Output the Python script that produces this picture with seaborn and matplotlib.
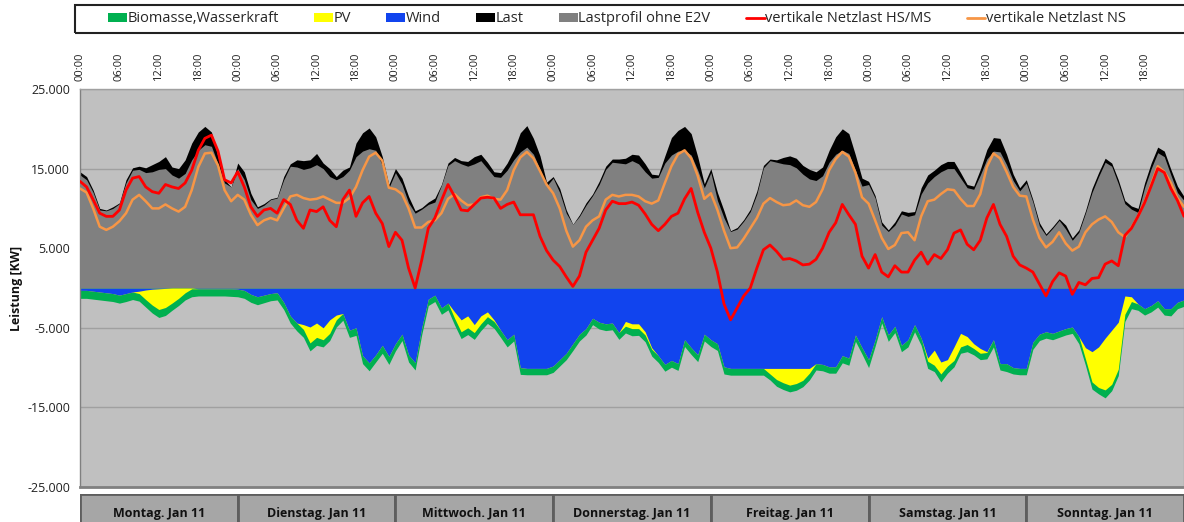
import numpy as np
import pandas as pd
import matplotlib
matplotlib.use("Agg")
import matplotlib.pyplot as plt
import seaborn as sns
from matplotlib.patches import Patch, Rectangle
from matplotlib.lines import Line2D

# ---- data: hourly values in thousand kW, Monday 00:00 .. Sunday 24:00 ----
last = [14.6, 14.0, 12.3, 10.0, 9.8, 10.2, 10.7, 13.6, 15.1, 15.3, 15.1, 15.5, 15.9, 16.5, 15.2, 15.0, 16.1, 18.2, 19.6, 20.3, 19.6, 16.5, 13.6, 12.7,
        15.7, 14.6, 11.9, 10.2, 10.6, 11.2, 11.4, 14.0, 15.6, 16.1, 16.0, 16.1, 16.9, 15.7, 15.0, 14.0, 14.8, 15.2, 18.2, 19.5, 20.1, 19.0, 16.5, 13.0,
        15.0, 13.8, 11.5, 9.7, 10.1, 10.8, 11.3, 13.0, 15.7, 16.4, 16.0, 15.9, 16.5, 16.8, 15.8, 14.6, 14.5, 15.7, 17.3, 19.5, 20.4, 18.8, 16.6, 13.3,
        14.0, 12.5, 9.8, 8.0, 9.2, 10.7, 11.8, 13.4, 15.3, 16.2, 16.2, 16.3, 16.8, 16.7, 15.6, 14.3, 14.2, 16.6, 18.9, 19.8, 20.3, 19.4, 16.5, 13.1,
        15.0, 12.0, 9.7, 7.2, 7.6, 8.6, 9.9, 12.2, 15.4, 16.2, 16.1, 16.4, 16.6, 16.3, 15.4, 14.9, 14.6, 15.2, 17.3, 19.0, 20.0, 19.4, 16.7, 13.8,
        13.4, 11.6, 8.3, 7.3, 8.3, 9.7, 9.5, 9.6, 12.6, 14.2, 14.8, 15.5, 15.9, 15.9, 14.5, 13.0, 12.8, 14.9, 17.4, 18.9, 18.8, 16.8, 14.3, 12.6,
        13.6, 11.1, 8.2, 6.8, 7.7, 8.7, 7.9, 6.3, 7.3, 9.7, 12.5, 14.5, 16.3, 15.7, 13.6, 11.0, 10.3, 10.0, 13.2, 15.7, 17.7, 17.2, 14.9, 12.8, 11.5]

lastprofil = [14.2, 13.6, 12.0, 9.8, 9.7, 10.0, 10.6, 13.2, 14.8, 14.9, 14.5, 14.6, 14.9, 15.0, 14.2, 13.8, 14.4, 16.1, 17.3, 18.0, 17.8, 15.6, 13.2, 12.7,
              15.0, 13.6, 11.1, 10.0, 10.4, 11.1, 11.3, 13.6, 15.3, 15.2, 14.9, 15.1, 15.5, 15.0, 14.0, 13.6, 14.0, 14.8, 16.5, 17.2, 17.5, 17.3, 15.4, 12.6,
              14.5, 13.0, 10.7, 9.4, 9.9, 10.5, 10.8, 12.9, 15.4, 16.0, 15.6, 15.3, 15.6, 16.0, 15.0, 14.0, 13.9, 14.8, 16.1, 17.1, 17.7, 16.8, 14.9, 12.8,
              13.8, 12.0, 9.4, 8.0, 9.0, 10.4, 11.6, 13.0, 14.9, 15.8, 15.7, 15.6, 16.0, 15.6, 14.6, 13.8, 13.9, 15.7, 16.7, 17.2, 17.3, 16.7, 14.8, 12.6,
              14.5, 11.0, 8.8, 7.1, 7.4, 8.4, 9.6, 11.8, 15.1, 16.0, 15.8, 15.6, 15.5, 15.1, 14.3, 13.7, 13.5, 14.1, 15.8, 16.8, 17.3, 16.9, 14.8, 12.8,
              13.0, 11.3, 7.9, 7.1, 7.9, 9.3, 9.0, 9.2, 11.8, 13.2, 14.0, 14.6, 15.0, 15.0, 13.8, 12.6, 12.4, 14.2, 16.2, 17.2, 17.1, 15.5, 13.5, 12.2,
              13.2, 10.8, 7.8, 6.6, 7.5, 8.5, 7.4, 6.0, 7.0, 9.4, 12.0, 14.0, 15.8, 15.3, 13.1, 10.6, 9.9, 9.5, 12.6, 15.0, 17.0, 16.5, 14.2, 12.0, 11.0]

netzlast_hsms = [13.4, 12.7, 11.1, 9.4, 9.0, 9.0, 9.8, 12.3, 13.8, 14.0, 12.7, 12.1, 11.9, 13.0, 12.7, 12.5, 13.2, 14.8, 17.3, 18.8, 19.2, 17.2, 13.6, 13.2,
                 14.6, 12.7, 10.2, 9.0, 9.8, 10.0, 9.4, 11.1, 10.5, 8.5, 7.5, 9.8, 9.6, 10.2, 8.5, 7.7, 11.1, 12.3, 9.0, 10.7, 11.5, 9.4, 8.1, 5.2,
                 7.0, 6.0, 2.5, 0.0, 3.5, 7.5, 8.8, 11.0, 13.0, 11.5, 9.8, 9.7, 10.5, 11.3, 11.4, 11.3, 10.0, 10.5, 10.8, 9.2, 9.2, 9.2, 6.5, 4.7,
                 3.5, 2.7, 1.4, 0.2, 1.5, 4.5, 6.0, 7.5, 9.8, 10.9, 10.6, 10.6, 10.8, 10.4, 9.3, 8.0, 7.2, 8.0, 9.0, 9.4, 11.2, 12.5, 9.5, 7.0,
                 5.0, 2.0, -2.0, -4.0, -2.5, -1.0, 0.0, 2.5, 4.8, 5.4, 4.6, 3.6, 3.7, 3.4, 2.9, 3.0, 3.6, 5.0, 7.0, 8.2, 10.5, 9.2, 8.0, 4.0,
                 2.5, 4.2, 2.0, 1.4, 2.8, 2.0, 2.0, 3.5, 4.5, 3.0, 4.2, 3.7, 4.8, 6.9, 7.3, 5.5, 4.8, 6.0, 8.8, 10.5, 8.0, 6.5, 4.0, 2.9,
                 2.5, 2.0, 0.5, -1.0, 0.8, 1.9, 1.5, -0.8, 0.7, 0.4, 1.2, 1.3, 3.0, 3.4, 2.8, 6.6, 7.5, 9.0, 10.7, 12.8, 15.0, 14.5, 12.5, 11.0, 9.0]

netzlast_ns = [12.5, 12.0, 10.0, 7.7, 7.3, 7.7, 8.4, 9.4, 11.1, 11.7, 10.9, 10.0, 10.0, 10.5, 10.0, 9.6, 10.2, 12.3, 15.2, 16.9, 17.0, 15.4, 12.3, 10.9,
               11.7, 11.1, 9.2, 7.9, 8.5, 8.8, 8.5, 10.0, 11.5, 11.7, 11.3, 11.1, 11.2, 11.5, 11.1, 10.7, 10.7, 11.3, 12.7, 14.8, 16.5, 17.0, 16.0, 12.6,
               12.4, 11.8, 10.0, 7.6, 7.6, 8.3, 8.5, 9.4, 11.2, 11.8, 11.0, 10.4, 10.5, 11.4, 11.6, 11.2, 11.1, 12.3, 14.8, 16.4, 17.1, 16.3, 14.7, 13.0,
               11.9, 10.0, 7.2, 5.2, 6.0, 7.7, 8.5, 9.0, 11.1, 11.7, 11.5, 11.7, 11.7, 11.5, 10.9, 10.6, 11.0, 13.2, 15.3, 16.8, 17.3, 16.3, 14.1, 11.2,
               11.9, 9.8, 7.2, 5.0, 5.1, 6.2, 7.5, 8.8, 10.6, 11.3, 10.8, 10.4, 10.5, 11.0, 10.4, 10.2, 10.8, 12.4, 14.8, 16.2, 17.1, 16.5, 14.5, 11.4,
               10.6, 8.5, 6.3, 4.9, 5.4, 6.9, 7.0, 6.0, 9.0, 10.9, 11.1, 11.8, 12.4, 12.3, 11.2, 10.3, 10.3, 11.8, 15.2, 16.9, 16.3, 14.6, 12.7, 11.6,
               11.5, 8.6, 6.3, 5.1, 5.8, 7.0, 5.6, 4.7, 5.2, 7.0, 8.0, 8.6, 9.0, 8.3, 7.0, 6.4, 7.6, 9.0, 10.8, 13.0, 15.3, 14.6, 13.2, 11.3, 10.2]

wind = [0.3, 0.3, 0.4, 0.5, 0.6, 0.7, 0.9, 0.7, 0.5, 0.4, 0.25, 0.15, 0.1, 0.05, 0.0, 0.0, 0.0, 0.0, 0.1, 0.1, 0.1, 0.1, 0.1, 0.1,
        0.15, 0.3, 0.8, 1.1, 0.9, 0.7, 0.6, 1.8, 3.5, 4.4, 4.6, 4.9, 4.4, 5.0, 4.0, 3.4, 3.2, 5.3, 5.0, 8.5, 9.4, 8.4, 7.2, 8.6,
        7.0, 5.8, 8.4, 9.4, 5.0, 1.4, 0.9, 2.5, 1.9, 3.0, 4.0, 3.5, 4.6, 3.5, 3.0, 4.0, 5.3, 6.5, 5.8, 10.0, 10.1, 10.1, 10.1, 10.1,
        9.8, 9.0, 8.2, 7.0, 5.8, 5.1, 3.8, 4.3, 4.5, 4.4, 5.6, 4.2, 4.5, 4.5, 5.5, 7.5, 8.5, 9.6, 9.1, 9.5, 6.5, 7.5, 8.4, 5.8,
        6.5, 7.0, 9.9, 10.1, 10.1, 10.1, 10.1, 10.1, 10.1, 10.1, 10.1, 10.1, 10.1, 10.1, 10.1, 10.1, 9.5, 9.6, 9.9, 9.9, 8.5, 8.8, 5.9, 7.5,
        9.0, 6.5, 3.6, 5.9, 4.8, 7.2, 6.5, 4.6, 6.3, 8.8, 7.8, 9.3, 9.0, 7.4, 5.7, 6.1, 7.0, 7.6, 8.0, 6.5, 9.5, 9.5, 10.0, 10.1,
        10.1, 6.8, 5.8, 5.5, 5.7, 5.4, 5.1, 4.9, 6.1, 7.5, 8.0, 7.4, 6.3, 5.3, 4.3, 1.0, 1.1, 2.0, 2.6, 2.2, 1.6, 2.6, 2.6, 1.8, 1.5]

pv = [0, 0, 0, 0, 0, 0, 0, 0, 0, 0.3, 1.2, 2.0, 2.6, 2.4, 1.9, 1.3, 0.6, 0.1, 0, 0, 0, 0, 0, 0,
      0, 0, 0, 0, 0, 0, 0, 0, 0, 0, 0.6, 2.0, 1.8, 1.5, 1.7, 0.6, 0, 0, 0, 0, 0, 0, 0, 0,
      0, 0, 0, 0, 0, 0, 0, 0, 0, 0.8, 1.5, 1.5, 1.0, 1.0, 0.6, 0.2, 0, 0, 0, 0, 0, 0, 0, 0,
      0, 0, 0, 0, 0, 0, 0, 0, 0, 0, 0, 0.6, 0.6, 0.6, 0.4, 0.2, 0, 0, 0, 0, 0, 0, 0, 0,
      0, 0, 0, 0, 0, 0, 0, 0, 0, 0.7, 1.4, 1.8, 2.1, 1.9, 1.5, 0.6, 0, 0, 0, 0, 0, 0, 0, 0,
      0, 0, 0, 0, 0, 0, 0, 0, 0, 0.4, 1.9, 1.5, 0.8, 1.7, 1.7, 1.0, 0.6, 0.6, 0.1, 0, 0, 0, 0, 0,
      0, 0, 0, 0, 0, 0, 0, 0, 0, 1.4, 3.8, 5.1, 6.5, 6.8, 5.9, 2.3, 0.6, 0, 0, 0, 0, 0, 0, 0, 0]

biomasse = [1.0, 1.0, 1.0, 1.0, 1.0, 1.0, 1.0, 1.0, 0.95, 0.95, 0.95, 1.0, 1.0, 1.0, 0.9, 0.9, 0.9, 1.0, 0.9, 0.9, 0.9, 0.9, 0.9, 0.95,
            0.95, 1.0, 1.0, 1.0, 0.95, 0.9, 0.9, 0.9, 0.9, 1.0, 1.0, 1.0, 1.0, 0.9, 0.9, 0.9, 0.85, 0.9, 0.95, 1.0, 1.0, 0.9, 1.0, 1.0,
            0.9, 0.8, 0.9, 0.9, 0.85, 0.8, 0.8, 0.8, 0.85, 0.85, 0.85, 0.85, 0.85, 0.85, 0.85, 0.85, 0.9, 0.9, 0.85, 0.85, 0.8, 0.8, 0.8, 0.8,
            0.8, 0.8, 0.8, 0.85, 0.85, 0.8, 0.8, 0.85, 0.85, 0.85, 0.85, 0.85, 0.9, 0.85, 0.85, 0.85, 0.85, 0.85, 0.85, 0.85, 0.85, 0.85, 0.85, 0.85,
            0.85, 0.85, 0.9, 0.85, 0.85, 0.85, 0.85, 0.85, 0.85, 0.75, 0.85, 0.85, 0.85, 0.85, 0.8, 0.85, 0.8, 0.8, 0.8, 0.8, 0.9, 0.9, 0.8, 0.8,
            1.0, 0.8, 0.8, 0.8, 0.8, 0.8, 0.9, 0.9, 0.9, 0.9, 0.8, 1.0, 0.9, 0.8, 0.8, 0.9, 0.8, 0.8, 0.8, 0.9, 0.8, 1.0, 0.8, 0.8,
            0.8, 0.9, 0.8, 0.8, 0.8, 0.8, 0.8, 0.8, 0.9, 0.8, 0.9, 0.8, 1.0, 0.8, 0.8, 0.9, 0.9, 0.8, 0.8, 0.8, 0.8, 0.8, 0.9, 0.8, 0.8]

days = ["Montag. Jan 11", "Dienstag. Jan 11", "Mittwoch. Jan 11", "Donnerstag. Jan 11",
        "Freitag. Jan 11", "Samstag. Jan 11", "Sonntag. Jan 11"]
time_labels = ["00:00", "06:00", "12:00", "18:00"]
y_ticks = [-25000, -15000, -5000, 5000, 15000, 25000]
legend_labels = ["Biomasse,Wasserkraft", "PV", "Wind", "Last", "Lastprofil ohne E2V",
                 "vertikale Netzlast HS/MS", "vertikale Netzlast NS"]

# ---- build table (kW) ----
KW = 1000
df = pd.DataFrame({
    "h": np.arange(len(last)),
    "last": np.array(last) * KW,
    "profil": np.array(lastprofil) * KW,
    "hsms": np.array(netzlast_hsms) * KW,
    "ns": np.array(netzlast_ns) * KW,
    "wind": np.array(wind) * KW,
    "pv": np.array(pv) * KW,
    "bio": np.array(biomasse) * KW,
})
df["neg_wind"] = -df["wind"]
df["neg_wind_pv"] = df["neg_wind"] - df["pv"]
df["neg_total"] = df["neg_wind_pv"] - df["bio"]

C_GREEN, C_YELLOW, C_BLUE = "#00B050", "#FFFF00", "#1144EE"
C_BLACK, C_GRAY, C_BG = "#000000", "#808080", "#C0C0C0"
C_RED, C_ORANGE = "#FF0000", "#F79646"

sns.set_style("white")
plt.rcParams["font.family"] = ["Open Sans", "DejaVu Sans"]

W, H = 1184, 522
fig = plt.figure(figsize=(W / 100, H / 100), dpi=100)
ax = fig.add_axes([80 / W, 35 / H, 1104 / W, 398 / H])
ax.set_facecolor(C_BG)

n_hours = 24 * len(days)
ax.set_xlim(0, n_hours)
ax.set_ylim(-25000, 25000)

# grid (under the areas)
ax.set_axisbelow(True)
ax.set_yticks(y_ticks)
ax.yaxis.grid(True, color="#A0A0A0", lw=1)
ax.set_xticks(np.arange(0, n_hours + 1, 12), minor=True)
ax.xaxis.grid(True, which="minor", color="#A0A0A0", lw=1)

# positive areas
ax.fill_between(df["h"], 0, df["last"], color=C_BLACK, lw=0, zorder=2)
ax.fill_between(df["h"], 0, df["profil"], color=C_GRAY, lw=0, zorder=2)
# negative stacked areas (wind at top, PV, biomass at bottom)
ax.fill_between(df["h"], 0, df["neg_total"], color=C_GREEN, lw=0, zorder=2)
ax.fill_between(df["h"], 0, df["neg_wind_pv"], color=C_YELLOW, lw=0, zorder=2)
ax.fill_between(df["h"], 0, df["neg_wind"], color=C_BLUE, lw=0, zorder=2)

# lines
sns.lineplot(data=df, x="h", y="ns", color=C_ORANGE, lw=1.8, ax=ax, zorder=3)
sns.lineplot(data=df, x="h", y="hsms", color=C_RED, lw=2.0, ax=ax, zorder=4)
ax.set_xlabel("")
ax.set_ylabel("")

# top time tick labels
ax.xaxis.tick_top()
ax.set_xticks(np.arange(0, n_hours, 6))
ax.set_xticklabels(time_labels * len(days), rotation=90, fontsize=8, color="#222222")
ax.tick_params(axis="x", which="both", length=0, pad=6)

ax.set_yticklabels([f"{v:,.0f}".replace(",", ".") for v in y_ticks], fontsize=9, color="#222222")
ax.tick_params(axis="y", length=5, color=C_GRAY, width=1, pad=2)

ax.spines["right"].set_visible(False)
ax.spines["left"].set_color(C_GRAY)
ax.spines["left"].set_linewidth(1)
ax.spines["bottom"].set_color(C_GRAY)
ax.spines["bottom"].set_linewidth(2)
ax.spines["top"].set_color("#A0A0A0")
ax.spines["top"].set_linewidth(1)

fig.text(17 / W, 1 - 288 / H, "Leistung [KW]", rotation=90, ha="center", va="center",
         fontsize=9, fontweight="bold", color="#111111")

# legend with frame
fig.add_artist(Rectangle((75 / W, 1 - 33 / H), 1200 / W, 28 / H, transform=fig.transFigure,
                         fill=False, edgecolor="#222222", lw=1.5))
handles = [Patch(facecolor=C_GREEN, edgecolor="none"),
           Patch(facecolor=C_YELLOW, edgecolor="none"),
           Patch(facecolor=C_BLUE, edgecolor="none"),
           Patch(facecolor=C_BLACK, edgecolor="none"),
           Patch(facecolor=C_GRAY, edgecolor="none"),
           Line2D([0], [0], color=C_RED, lw=2),
           Line2D([0], [0], color=C_ORANGE, lw=2)]
fig.legend(handles, legend_labels, loc="center left", bbox_to_anchor=(108 / W, 1 - 19 / H),
           ncol=7, frameon=False, fontsize=10.5, handlelength=1.3, handleheight=0.6,
           handletextpad=0.05, columnspacing=2.4, borderaxespad=0, borderpad=0)

# day boxes below the plot
axd = fig.add_axes([80 / W, -10 / H, 1104 / W, 38 / H])
axd.set_xlim(0, n_hours)
axd.set_ylim(0, 1)
starts = np.arange(len(days)) * 24
axd.bar(starts, 1, width=24, align="edge", color="#A6A6A6", edgecolor="#5E5E5E", lw=2)
for s, d in zip(starts, days):
    axd.text(s + 12, 0.5, d, ha="center", va="center", fontsize=9, fontweight="bold", color="#111111")
axd.axis("off")

fig.savefig("out.png", dpi=100)
